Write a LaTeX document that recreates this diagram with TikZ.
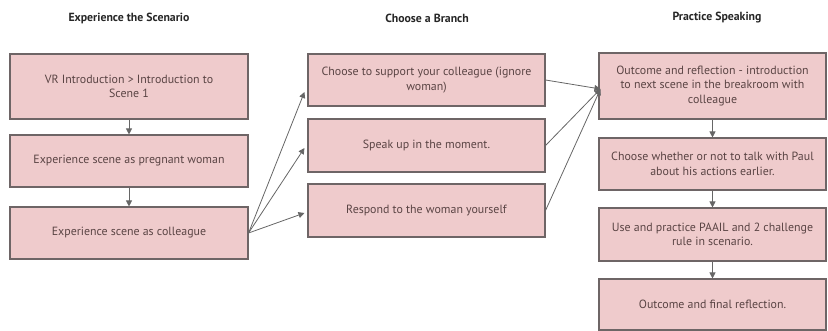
\documentclass[tikz,border=0pt]{standalone}
\usepackage{fontspec}
\setmainfont{PT Sans}
\usetikzlibrary{arrows.meta}
\definecolor{boxfill}{HTML}{EFCBCC}
\definecolor{boxline}{HTML}{6E6566}
\definecolor{txt}{HTML}{5A4444}
\definecolor{arr}{HTML}{666666}
\begin{document}
\begin{tikzpicture}[x=1pt,y=-1pt,
  stepbox/.style={draw=boxline,fill=boxfill,line width=1.1pt,text=txt,
    font=\fontsize{11.9}{14.5}\selectfont,align=center,inner sep=0pt},
  head/.style={font=\fontsize{11.8}{14}\selectfont\bfseries,text=black!85},
  conn/.style={draw=arr,line width=0.8pt,-{Triangle[width=6pt,length=6pt]}}]
\useasboundingbox (0,0) rectangle (828,331);
\node[head] (h1) at (129,18) {Experience the Scenario};
\node[head] (h2) at (427,18) {Choose a Branch};
\node[head] (h3) at (717,18) {Practice Speaking};
% left column
\node[stepbox,minimum width=238pt,minimum height=65pt] (L1) at (129,86.5) {VR Introduction > Introduction to\\Scene 1};
\node[stepbox,minimum width=238pt,minimum height=52pt] (L2) at (129,161) {Experience scene as pregnant woman};
\node[stepbox,minimum width=238pt,minimum height=52pt] (L3) at (129,233) {Experience scene as colleague};
% middle column
\node[stepbox,minimum width=237pt,minimum height=52pt] (M1) at (426.5,80) {Choose to support your colleague (ignore\\woman)};
\node[stepbox,minimum width=237pt,minimum height=53pt] (M2) at (426.5,145.5) {Speak up in the moment.};
\node[stepbox,minimum width=237pt,minimum height=53pt] (M3) at (426.5,210.5) {Respond to the woman yourself};
% right column
\node[stepbox,minimum width=227pt,minimum height=66pt] (R1) at (712.5,86) {Outcome and reflection - introduction\\to next scene in the breakroom with\\colleague};
\node[stepbox,minimum width=227pt,minimum height=52pt] (R2) at (712.5,164) {Choose whether or not to talk with Paul\\about his actions earlier.};
\node[stepbox,minimum width=227pt,minimum height=53pt] (R3) at (712.5,234.5) {Use and practice PAAIL and 2 challenge\\rule in scenario.};
\node[stepbox,minimum width=227pt,minimum height=51pt] (R4) at (712.5,304.5) {Outcome and final reflection.};
% vertical arrows
\draw[conn] (L1.south) -- (L2.north);
\draw[conn] (L2.south) -- (L3.north);
\draw[conn] (R1.south) -- (R2.north);
\draw[conn] (R2.south) -- (R3.north);
\draw[conn] (R3.south) -- (R4.north);
% branches
\draw[conn] (L3.east) -- ([xshift=-3pt,yshift=-12pt]M1.west);
\draw[conn] (L3.east) -- ([xshift=-3pt,yshift=-2.5pt]M2.west);
\draw[conn] (L3.east) -- ([xshift=-3pt,yshift=-2.5pt]M3.west);
\coordinate (join) at ([xshift=2pt,yshift=-3pt]R1.west);
\draw[conn] (M1.east) -- (join);
\draw[conn] (M2.east) -- (join);
\draw[conn] (M3.east) -- (join);
\end{tikzpicture}
\end{document}
